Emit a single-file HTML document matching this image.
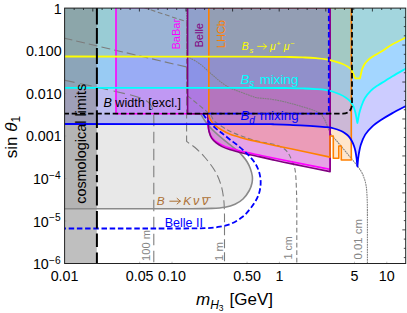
<!DOCTYPE html>
<html><head><meta charset="utf-8"><style>
html,body{margin:0;padding:0;background:#fff;}
body{width:407px;height:313px;overflow:hidden;font-family:"Liberation Sans",sans-serif;}
svg{display:block;font-family:"Liberation Sans",sans-serif;}
</style></head><body>
<svg width="407" height="313" viewBox="0 0 407 313">
<defs><clipPath id="cp"><rect x="64.6" y="8.1" width="341.1" height="255.4"/></clipPath></defs>
<rect width="407" height="313" fill="#fff"/>
<g clip-path="url(#cp)">
<!-- fills -->
<path d="M63.50 113.70L200.60 113.70 C201.23 114.75 203.03 117.97 204.40 120.00 C205.77 122.03 207.08 123.93 208.80 125.90 C210.52 127.87 212.48 129.72 214.70 131.80 C216.92 133.88 219.63 136.32 222.10 138.40 C224.57 140.48 227.03 142.33 229.50 144.30 C231.97 146.27 234.68 148.23 236.90 150.20 C239.12 152.17 241.08 154.13 242.80 156.10 C244.52 158.07 245.95 159.93 247.20 162.00 C248.45 164.07 249.45 166.17 250.30 168.50 C251.15 170.83 252.02 173.58 252.30 176.00 C252.58 178.42 252.50 180.58 252.00 183.00 C251.50 185.42 250.80 187.83 249.30 190.50 C247.80 193.17 245.38 196.70 243.00 199.00 C240.62 201.30 238.00 202.92 235.00 204.30 C232.00 205.68 228.83 206.62 225.00 207.30 C221.17 207.98 217.83 208.17 212.00 208.40 C206.17 208.63 200.33 208.65 190.00 208.70 C179.67 208.75 156.67 208.70 150.00 208.70L63.50 208.70Z" fill="#e8e8e8"/>
<path d="M63.5 7.5 H328.8 V113.7 H63.5 Z" fill="#000" fill-opacity="0.065"/>
<path d="M116.00 7.50L116.00 113.70 L207.50 113.70 C207.63 115.48 207.60 121.63 207.80 124.40 C208.00 127.17 208.27 128.33 208.80 130.30 C209.33 132.27 210.02 134.48 211.00 136.20 C211.98 137.92 212.85 139.12 214.70 140.60 C216.55 142.08 219.63 143.87 222.10 145.10 C224.57 146.33 226.80 147.12 229.50 148.00 C232.20 148.88 235.10 149.58 238.30 150.40 C241.50 151.22 245.08 152.10 248.70 152.90 C252.32 153.70 256.12 154.38 260.00 155.20 C263.88 156.02 266.67 156.68 272.00 157.80 C277.33 158.92 282.32 159.97 292.00 161.90 C301.68 163.83 323.75 168.15 330.10 169.40L330.10 7.50Z" fill="rgb(255,0,255)" fill-opacity="0.2"/>
<path d="M187.60 7.50L187.60 113.70 L207.50 113.70 C207.72 115.48 208.05 121.38 208.30 124.40 C208.55 127.42 208.52 129.47 209.10 131.80 C209.68 134.13 210.62 136.55 211.80 138.40 C212.98 140.25 214.48 141.53 216.20 142.90 C217.92 144.27 219.88 145.48 222.10 146.60 C224.32 147.72 226.80 148.70 229.50 149.60 C232.20 150.50 235.10 151.18 238.30 152.00 C241.50 152.82 245.08 153.68 248.70 154.50 C252.32 155.32 256.12 156.05 260.00 156.90 C263.88 157.75 266.67 158.43 272.00 159.60 C277.33 160.77 282.32 161.90 292.00 163.90 C301.68 165.90 323.75 170.32 330.10 171.60L330.10 7.50Z" fill="rgb(128,0,128)" fill-opacity="0.2"/>
<path d="M208.80 7.50L208.80 113.70 C208.88 114.25 208.93 115.87 209.30 117.00 C209.67 118.13 210.10 119.13 211.00 120.50 C211.90 121.87 212.85 123.57 214.70 125.20 C216.55 126.83 219.63 128.83 222.10 130.30 C224.57 131.77 226.30 132.77 229.50 134.00 C232.70 135.23 237.62 136.63 241.30 137.70 C244.98 138.77 248.48 139.63 251.60 140.40 C254.72 141.17 256.52 141.53 260.00 142.30 C263.48 143.07 267.17 143.88 272.50 145.00 C277.83 146.12 282.42 146.98 292.00 149.00 C301.58 151.02 323.67 155.75 330.00 157.10L330.00 136.00 L333.30 136.00 L333.30 158.30 L338.80 158.30 L338.80 146.00 L341.30 146.00 L341.30 160.00 L351.30 160.00 L351.30 7.50Z" fill="rgb(255,128,0)" fill-opacity="0.2"/>
<path d="M63.50 7.50 L63.50 56.50 C94.58 56.52 212.25 56.52 250.00 56.60 C287.75 56.68 280.83 56.85 290.00 57.00 C299.17 57.15 300.67 57.30 305.00 57.50 C309.33 57.70 312.67 57.93 316.00 58.20 C319.33 58.47 322.03 58.62 325.00 59.10 C327.97 59.58 330.85 60.28 333.80 61.10 C336.75 61.92 340.23 62.98 342.70 64.00 C345.17 65.02 347.12 66.23 348.60 67.20 C350.08 68.17 351.10 69.37 351.60 69.80 L355.30 78.40 L360.00 78.40 L362.00 69.30 C362.42 68.47 363.53 65.80 364.50 64.30 C365.47 62.80 366.55 61.52 367.80 60.30 C369.05 59.08 370.53 58.02 372.00 57.00 C373.47 55.98 374.43 55.50 376.60 54.20 C378.77 52.90 382.35 50.87 385.00 49.20 C387.65 47.53 388.92 46.20 392.50 44.20 C396.08 42.20 404.17 38.37 406.50 37.20 L406.50 7.50Z" fill="rgb(255,255,0)" fill-opacity="0.2"/>
<path d="M63.50 7.50 L63.50 124.00 C94.58 124.02 214.75 124.03 250.00 124.10 C285.25 124.17 268.33 124.28 275.00 124.40 C281.67 124.52 285.00 124.60 290.00 124.80 C295.00 125.00 300.08 125.30 305.00 125.60 C309.92 125.90 315.83 126.33 319.50 126.60 C323.17 126.87 324.58 126.88 327.00 127.20 C329.42 127.52 331.73 127.90 334.00 128.50 C336.27 129.10 338.77 130.00 340.60 130.80 C342.43 131.60 343.68 132.40 345.00 133.30 C346.32 134.20 347.37 134.92 348.50 136.20 C349.63 137.48 350.88 139.37 351.80 141.00 C352.72 142.63 353.38 144.25 354.00 146.00 C354.62 147.75 355.07 149.42 355.50 151.50 C355.93 153.58 356.32 156.33 356.60 158.50 C356.88 160.67 357.07 163.17 357.20 164.50 C357.33 165.83 357.33 166.50 357.40 166.50 C357.47 166.50 357.42 166.27 357.60 164.50 C357.78 162.73 357.97 159.20 358.50 155.90 C359.03 152.60 359.68 148.25 360.80 144.70 C361.92 141.15 363.35 137.58 365.20 134.60 C367.05 131.62 369.28 129.22 371.90 126.80 C374.52 124.38 377.55 122.33 380.90 120.10 C384.25 117.87 387.73 115.80 392.00 113.40 C396.27 111.00 404.08 106.98 406.50 105.70 L406.50 7.50Z" fill="rgb(0,0,255)" fill-opacity="0.2"/>
<path d="M63.50 7.50 L63.50 87.80 C94.58 87.80 212.25 87.75 250.00 87.80 C287.75 87.85 280.83 87.98 290.00 88.10 C299.17 88.22 300.67 88.33 305.00 88.50 C309.33 88.67 312.67 88.87 316.00 89.10 C319.33 89.33 322.27 89.50 325.00 89.90 C327.73 90.30 329.95 90.77 332.40 91.50 C334.85 92.23 337.50 93.32 339.70 94.30 C341.90 95.28 343.87 96.25 345.60 97.40 C347.33 98.55 348.78 99.68 350.10 101.20 C351.42 102.72 352.58 104.45 353.50 106.50 C354.42 108.55 355.05 111.25 355.60 113.50 C356.15 115.75 356.50 118.38 356.80 120.00 C357.10 121.62 357.20 123.20 357.40 123.20 C357.60 123.20 357.70 121.62 358.00 120.00 C358.30 118.38 358.68 115.65 359.20 113.50 C359.72 111.35 360.17 109.65 361.10 107.10 C362.03 104.55 363.20 100.92 364.80 98.20 C366.40 95.48 368.48 92.97 370.70 90.80 C372.92 88.63 375.72 86.83 378.10 85.20 C380.48 83.57 382.60 82.50 385.00 81.00 C387.40 79.50 388.92 78.32 392.50 76.20 C396.08 74.08 404.17 69.62 406.50 68.30 L406.50 7.50Z" fill="rgb(0,255,255)" fill-opacity="0.2"/>
<rect x="63.5" y="7.5" width="33.3" height="257.0" fill="rgb(128,128,128)" fill-opacity="0.5"/>
<!-- lifetime contours -->
<g fill="none" stroke="#7c7c7c" stroke-width="1.1">
<path d="M63.50 80.00 C68.92 81.17 86.58 84.92 96.00 87.00 C105.42 89.08 113.50 90.97 120.00 92.50 C126.50 94.03 130.83 94.95 135.00 96.20 C139.17 97.45 142.42 98.62 145.00 100.00 C147.58 101.38 149.17 102.83 150.50 104.50 C151.83 106.17 152.45 107.83 153.00 110.00 C153.55 112.17 153.67 112.50 153.80 117.50 C153.93 122.50 153.80 136.25 153.80 140.00L153.80 264.50" stroke-dasharray="11.5 5.5"/>
<path d="M63.50 38.00L186.60 67.00 L186.60 141.30 C187.17 141.75 188.60 142.97 190.00 144.00 C191.40 145.03 192.50 145.25 195.00 147.50 C197.50 149.75 201.67 153.58 205.00 157.50 C208.33 161.42 212.33 166.42 215.00 171.00 C217.67 175.58 219.53 180.17 221.00 185.00 C222.47 189.83 223.22 195.00 223.80 200.00 C224.38 205.00 224.38 212.50 224.50 215.00L224.50 264.50" stroke-dasharray="9 4"/>
<path d="M143.60 7.50L186.60 21.70 L186.60 95.00 C190.42 98.17 204.82 109.58 209.50 114.00 C214.18 118.42 211.37 118.67 214.70 121.50 C218.03 124.33 224.58 128.42 229.50 131.00 C234.42 133.58 239.12 135.22 244.20 137.00 C249.28 138.78 254.87 140.43 260.00 141.70 C265.13 142.97 270.73 143.22 275.00 144.60 C279.27 145.98 282.82 147.43 285.60 150.00 C288.38 152.57 290.07 156.33 291.70 160.00 C293.33 163.67 294.55 165.33 295.40 172.00 C296.25 178.67 296.57 195.33 296.80 200.00L296.80 264.50" stroke-dasharray="4.8 2.7"/>
<path d="M186.60 7.50L186.60 57.00 C187.13 57.13 187.62 56.67 189.80 57.80 C191.98 58.93 196.42 61.38 199.70 63.80 C202.98 66.22 206.23 69.47 209.50 72.30 C212.77 75.13 216.03 78.25 219.30 80.80 C222.57 83.35 226.48 86.07 229.10 87.60 C231.72 89.13 232.85 89.17 235.00 90.00 C237.15 90.83 239.50 91.68 242.00 92.60 C244.50 93.52 247.70 94.67 250.00 95.50 C252.30 96.33 253.80 97.13 255.80 97.60 C257.80 98.07 259.63 98.05 262.00 98.30 C264.37 98.55 267.00 98.68 270.00 99.10 C273.00 99.52 276.67 100.12 280.00 100.80 C283.33 101.48 286.67 102.33 290.00 103.20 C293.33 104.07 296.17 104.87 300.00 106.00 C303.83 107.13 309.67 108.75 313.00 110.00 C316.33 111.25 318.17 112.08 320.00 113.50 C321.83 114.92 322.83 116.58 324.00 118.50 C325.17 120.42 325.83 122.33 327.00 125.00 C328.17 127.67 329.47 131.93 331.00 134.50 C332.53 137.07 333.48 137.22 336.20 140.40 C338.92 143.58 343.77 149.33 347.30 153.60 C350.83 157.87 354.87 162.60 357.40 166.00 C359.93 169.40 361.07 170.83 362.50 174.00 C363.93 177.17 365.22 180.67 366.00 185.00 C366.78 189.33 366.97 194.50 367.20 200.00 C367.43 205.50 367.37 215.00 367.40 218.00L367.40 264.50" stroke-width="1.05" stroke="#7e7e7e" stroke-dasharray="1.8 0.7"/>
</g>
<!-- lines -->
<g fill="none" stroke-linejoin="round">
<path d="M200.60 113.70 C201.23 114.75 203.03 117.97 204.40 120.00 C205.77 122.03 207.08 123.93 208.80 125.90 C210.52 127.87 212.48 129.72 214.70 131.80 C216.92 133.88 219.63 136.32 222.10 138.40 C224.57 140.48 227.03 142.33 229.50 144.30 C231.97 146.27 234.68 148.23 236.90 150.20 C239.12 152.17 241.08 154.13 242.80 156.10 C244.52 158.07 245.95 159.93 247.20 162.00 C248.45 164.07 249.45 166.17 250.30 168.50 C251.15 170.83 252.02 173.58 252.30 176.00 C252.58 178.42 252.50 180.58 252.00 183.00 C251.50 185.42 250.80 187.83 249.30 190.50 C247.80 193.17 245.38 196.70 243.00 199.00 C240.62 201.30 238.00 202.92 235.00 204.30 C232.00 205.68 228.83 206.62 225.00 207.30 C221.17 207.98 217.83 208.17 212.00 208.40 C206.17 208.63 200.33 208.65 190.00 208.70 C179.67 208.75 156.67 208.70 150.00 208.70L63.50 208.70" stroke="#8a8a8a" stroke-width="1.6"/>
<path d="M116.00 7.50L116.00 113.70 L207.50 113.70 C207.63 115.48 207.60 121.63 207.80 124.40 C208.00 127.17 208.27 128.33 208.80 130.30 C209.33 132.27 210.02 134.48 211.00 136.20 C211.98 137.92 212.85 139.12 214.70 140.60 C216.55 142.08 219.63 143.87 222.10 145.10 C224.57 146.33 226.80 147.12 229.50 148.00 C232.20 148.88 235.10 149.58 238.30 150.40 C241.50 151.22 245.08 152.10 248.70 152.90 C252.32 153.70 256.12 154.38 260.00 155.20 C263.88 156.02 266.67 156.68 272.00 157.80 C277.33 158.92 282.32 159.97 292.00 161.90 C301.68 163.83 323.75 168.15 330.10 169.40L330.10 7.50Z" stroke="rgb(255,0,255)" stroke-width="1.6"/>
<path d="M187.60 7.50L187.60 113.70 L207.50 113.70 C207.72 115.48 208.05 121.38 208.30 124.40 C208.55 127.42 208.52 129.47 209.10 131.80 C209.68 134.13 210.62 136.55 211.80 138.40 C212.98 140.25 214.48 141.53 216.20 142.90 C217.92 144.27 219.88 145.48 222.10 146.60 C224.32 147.72 226.80 148.70 229.50 149.60 C232.20 150.50 235.10 151.18 238.30 152.00 C241.50 152.82 245.08 153.68 248.70 154.50 C252.32 155.32 256.12 156.05 260.00 156.90 C263.88 157.75 266.67 158.43 272.00 159.60 C277.33 160.77 282.32 161.90 292.00 163.90 C301.68 165.90 323.75 170.32 330.10 171.60L330.10 7.50Z" stroke="rgb(128,0,128)" stroke-width="1.6"/>
<path d="M208.80 7.50L208.80 113.70 C208.88 114.25 208.93 115.87 209.30 117.00 C209.67 118.13 210.10 119.13 211.00 120.50 C211.90 121.87 212.85 123.57 214.70 125.20 C216.55 126.83 219.63 128.83 222.10 130.30 C224.57 131.77 226.30 132.77 229.50 134.00 C232.70 135.23 237.62 136.63 241.30 137.70 C244.98 138.77 248.48 139.63 251.60 140.40 C254.72 141.17 256.52 141.53 260.00 142.30 C263.48 143.07 267.17 143.88 272.50 145.00 C277.83 146.12 282.42 146.98 292.00 149.00 C301.58 151.02 323.67 155.75 330.00 157.10L330.00 136.00 L333.30 136.00 L333.30 158.30 L338.80 158.30 L338.80 146.00 L341.30 146.00 L341.30 160.00 L351.30 160.00 L351.30 7.50Z" stroke="rgb(255,128,0)" stroke-width="1.6"/>
<path d="M63.50 124.00 C94.58 124.02 214.75 124.03 250.00 124.10 C285.25 124.17 268.33 124.28 275.00 124.40 C281.67 124.52 285.00 124.60 290.00 124.80 C295.00 125.00 300.08 125.30 305.00 125.60 C309.92 125.90 315.83 126.33 319.50 126.60 C323.17 126.87 324.58 126.88 327.00 127.20 C329.42 127.52 331.73 127.90 334.00 128.50 C336.27 129.10 338.77 130.00 340.60 130.80 C342.43 131.60 343.68 132.40 345.00 133.30 C346.32 134.20 347.37 134.92 348.50 136.20 C349.63 137.48 350.88 139.37 351.80 141.00 C352.72 142.63 353.38 144.25 354.00 146.00 C354.62 147.75 355.07 149.42 355.50 151.50 C355.93 153.58 356.32 156.33 356.60 158.50 C356.88 160.67 357.07 163.17 357.20 164.50 C357.33 165.83 357.33 166.50 357.40 166.50 C357.47 166.50 357.42 166.27 357.60 164.50 C357.78 162.73 357.97 159.20 358.50 155.90 C359.03 152.60 359.68 148.25 360.80 144.70 C361.92 141.15 363.35 137.58 365.20 134.60 C367.05 131.62 369.28 129.22 371.90 126.80 C374.52 124.38 377.55 122.33 380.90 120.10 C384.25 117.87 387.73 115.80 392.00 113.40 C396.27 111.00 404.08 106.98 406.50 105.70" stroke="rgb(0,0,255)" stroke-width="1.8"/>
<path d="M63.50 87.80 C94.58 87.80 212.25 87.75 250.00 87.80 C287.75 87.85 280.83 87.98 290.00 88.10 C299.17 88.22 300.67 88.33 305.00 88.50 C309.33 88.67 312.67 88.87 316.00 89.10 C319.33 89.33 322.27 89.50 325.00 89.90 C327.73 90.30 329.95 90.77 332.40 91.50 C334.85 92.23 337.50 93.32 339.70 94.30 C341.90 95.28 343.87 96.25 345.60 97.40 C347.33 98.55 348.78 99.68 350.10 101.20 C351.42 102.72 352.58 104.45 353.50 106.50 C354.42 108.55 355.05 111.25 355.60 113.50 C356.15 115.75 356.50 118.38 356.80 120.00 C357.10 121.62 357.20 123.20 357.40 123.20 C357.60 123.20 357.70 121.62 358.00 120.00 C358.30 118.38 358.68 115.65 359.20 113.50 C359.72 111.35 360.17 109.65 361.10 107.10 C362.03 104.55 363.20 100.92 364.80 98.20 C366.40 95.48 368.48 92.97 370.70 90.80 C372.92 88.63 375.72 86.83 378.10 85.20 C380.48 83.57 382.60 82.50 385.00 81.00 C387.40 79.50 388.92 78.32 392.50 76.20 C396.08 74.08 404.17 69.62 406.50 68.30" stroke="rgb(0,255,255)" stroke-width="1.8"/>
<path d="M63.50 56.50 C94.58 56.52 212.25 56.52 250.00 56.60 C287.75 56.68 280.83 56.85 290.00 57.00 C299.17 57.15 300.67 57.30 305.00 57.50 C309.33 57.70 312.67 57.93 316.00 58.20 C319.33 58.47 322.03 58.62 325.00 59.10 C327.97 59.58 330.85 60.28 333.80 61.10 C336.75 61.92 340.23 62.98 342.70 64.00 C345.17 65.02 347.12 66.23 348.60 67.20 C350.08 68.17 351.10 69.37 351.60 69.80 L355.30 78.40 L360.00 78.40 L362.00 69.30 C362.42 68.47 363.53 65.80 364.50 64.30 C365.47 62.80 366.55 61.52 367.80 60.30 C369.05 59.08 370.53 58.02 372.00 57.00 C373.47 55.98 374.43 55.50 376.60 54.20 C378.77 52.90 382.35 50.87 385.00 49.20 C387.65 47.53 388.92 46.20 392.50 44.20 C396.08 42.20 404.17 38.37 406.50 37.20" stroke="rgb(255,255,0)" stroke-width="1.8"/>
<path d="M202.90 113.70 C203.65 114.75 205.43 117.72 207.40 120.00 C209.37 122.28 212.25 125.18 214.70 127.40 C217.15 129.62 219.63 131.33 222.10 133.30 C224.57 135.27 227.03 137.28 229.50 139.20 C231.97 141.12 234.45 142.83 236.90 144.80 C239.35 146.77 242.00 148.98 244.20 151.00 C246.40 153.02 248.25 154.82 250.10 156.90 C251.95 158.98 253.85 161.15 255.30 163.50 C256.75 165.85 257.93 168.42 258.80 171.00 C259.67 173.58 260.23 176.33 260.50 179.00 C260.77 181.67 260.73 184.33 260.40 187.00 C260.07 189.67 259.40 192.50 258.50 195.00 C257.60 197.50 256.42 199.67 255.00 202.00 C253.58 204.33 252.00 206.58 250.00 209.00 C248.00 211.42 246.00 214.12 243.00 216.50 C240.00 218.88 235.83 221.60 232.00 223.30 C228.17 225.00 224.50 225.88 220.00 226.70 C215.50 227.52 211.67 227.90 205.00 228.20 C198.33 228.50 189.17 228.45 180.00 228.50 C170.83 228.55 155.00 228.50 150.00 228.50L63.50 228.50" stroke="rgb(0,0,255)" stroke-width="1.8" stroke-dasharray="5.5 2.7"/>
<path d="M328.8 7.5 V113.7 H208" stroke="rgb(0,0,255)" stroke-width="1.8" stroke-dasharray="5.5 2.7"/>
<path d="M63.5 113.7 H342.8 C347.3 113.7 352 111 352 104 V8.1" stroke="#000" stroke-width="1.8" stroke-dasharray="5.5 2.7"/>
<path d="M96.9 8 V264.5" stroke="#000" stroke-width="2" stroke-dasharray="16.5 3.5 15.8 4.3 15.8 3.7 16.4 4 18.6 3.7 17.8 4.3 17.3 5.1 16.4 3.8 7.2 4.2 19.0 5.6 17.6 4.9 13.5 5.5 30 0"/>
</g>
</g>
<!-- frame & ticks -->
<g stroke="#000" stroke-width="0.7" fill="none">
<path d="M74.16 8.1 v1.9"/>
<path d="M83.48 8.1 v1.9"/>
<path d="M92.80 8.1 v3.4"/>
<path d="M102.12 8.1 v1.9"/>
<path d="M111.44 8.1 v1.9"/>
<path d="M120.76 8.1 v1.9"/>
<path d="M130.08 8.1 v1.9"/>
<path d="M139.40 8.1 v3.4"/>
<path d="M148.72 8.1 v1.9"/>
<path d="M158.04 8.1 v1.9"/>
<path d="M167.36 8.1 v1.9"/>
<path d="M176.68 8.1 v1.9"/>
<path d="M186.00 8.1 v3.4"/>
<path d="M195.32 8.1 v1.9"/>
<path d="M204.64 8.1 v1.9"/>
<path d="M213.96 8.1 v1.9"/>
<path d="M223.28 8.1 v1.9"/>
<path d="M232.60 8.1 v3.4"/>
<path d="M241.92 8.1 v1.9"/>
<path d="M251.24 8.1 v1.9"/>
<path d="M260.56 8.1 v1.9"/>
<path d="M269.88 8.1 v1.9"/>
<path d="M279.20 8.1 v3.4"/>
<path d="M288.52 8.1 v1.9"/>
<path d="M297.84 8.1 v1.9"/>
<path d="M307.16 8.1 v1.9"/>
<path d="M316.48 8.1 v1.9"/>
<path d="M325.80 8.1 v3.4"/>
<path d="M335.12 8.1 v1.9"/>
<path d="M344.44 8.1 v1.9"/>
<path d="M353.76 8.1 v1.9"/>
<path d="M363.08 8.1 v1.9"/>
<path d="M372.40 8.1 v3.4"/>
<path d="M381.72 8.1 v1.9"/>
<path d="M391.04 8.1 v1.9"/>
<path d="M400.36 8.1 v1.9"/>
<path d="M405.7 17.34 h-1.9"/>
<path d="M405.7 26.58 h-1.9"/>
<path d="M405.7 35.82 h-1.9"/>
<path d="M405.7 45.06 h-3.4"/>
<path d="M405.7 54.30 h-1.9"/>
<path d="M405.7 63.54 h-1.9"/>
<path d="M405.7 72.78 h-1.9"/>
<path d="M405.7 82.02 h-3.4"/>
<path d="M405.7 91.26 h-1.9"/>
<path d="M405.7 100.50 h-1.9"/>
<path d="M405.7 109.74 h-1.9"/>
<path d="M405.7 118.98 h-3.4"/>
<path d="M405.7 128.22 h-1.9"/>
<path d="M405.7 137.46 h-1.9"/>
<path d="M405.7 146.70 h-1.9"/>
<path d="M405.7 155.94 h-3.4"/>
<path d="M405.7 165.18 h-1.9"/>
<path d="M405.7 174.42 h-1.9"/>
<path d="M405.7 183.66 h-1.9"/>
<path d="M405.7 192.90 h-3.4"/>
<path d="M405.7 202.14 h-1.9"/>
<path d="M405.7 211.38 h-1.9"/>
<path d="M405.7 220.62 h-1.9"/>
<path d="M405.7 229.86 h-3.4"/>
<path d="M405.7 239.10 h-1.9"/>
<path d="M405.7 248.34 h-1.9"/>
<path d="M405.7 257.58 h-1.9"/>
</g>
<g stroke="#999" stroke-width="0.6" fill="none">
<path d="M139.67 263.5 v-1.8"/>
<path d="M172.00 263.5 v-1.8"/>
<path d="M247.07 263.5 v-1.8"/>
<path d="M279.40 263.5 v-1.8"/>
<path d="M354.47 263.5 v-1.8"/>
<path d="M386.80 263.5 v-1.8"/>
<path d="M64.6 51.00 h1.8"/>
<path d="M64.6 93.50 h1.8"/>
<path d="M64.6 136.00 h1.8"/>
<path d="M64.6 178.50 h1.8"/>
<path d="M64.6 221.00 h1.8"/>
</g>
<rect x="64.6" y="8.1" width="341.1" height="255.4" fill="none" stroke="#222" stroke-width="1"/>
<!-- labels -->
<g font-size="14.3" fill="#000">
<text x="64.60" y="281.4" text-anchor="middle">0.01</text>
<text x="139.67" y="281.4" text-anchor="middle">0.05</text>
<text x="172.00" y="281.4" text-anchor="middle">0.10</text>
<text x="247.07" y="281.4" text-anchor="middle">0.50</text>
<text x="279.40" y="281.4" text-anchor="middle">1</text>
<text x="354.47" y="281.4" text-anchor="middle">5</text>
<text x="386.80" y="281.4" text-anchor="middle">10</text>
<text x="61.7" y="13.70" text-anchor="end">1</text>
<text x="61.7" y="56.20" text-anchor="end">0.100</text>
<text x="61.7" y="98.70" text-anchor="end">0.010</text>
<text x="61.7" y="141.20" text-anchor="end">0.001</text>
<text x="48.8" y="184.10" text-anchor="end">10</text><text x="49" y="178.90" font-size="10.2">−4</text>
<text x="48.8" y="226.60" text-anchor="end">10</text><text x="49" y="221.40" font-size="10.2">−5</text>
<text x="48.8" y="269.10" text-anchor="end">10</text><text x="49" y="263.90" font-size="10.2">−6</text>
</g>
<text transform="translate(17.4 137) rotate(-90)" text-anchor="middle" font-size="17" fill="#000">sin <tspan font-style="italic">θ</tspan><tspan font-size="12" dy="3">1</tspan></text>
<text x="196" y="304.8" font-size="17" fill="#000"><tspan font-style="italic">m</tspan><tspan font-size="12" font-style="italic" dy="4.4">H</tspan><tspan font-size="8.5" dy="1.8">3</tspan><tspan dy="-6.2" dx="1.3"> [GeV]</tspan></text>
<!-- annotations -->
<text transform="translate(86 203.8) rotate(-90)" font-size="14.2" fill="#000" textLength="120" lengthAdjust="spacingAndGlyphs">cosmological limits</text>
<text x="103.5" y="107.4" font-size="12.5" fill="#000" textLength="77.5" lengthAdjust="spacingAndGlyphs"><tspan font-style="italic">B</tspan> width [excl.]</text>
<text transform="translate(180.3 49.6) rotate(-90)" font-size="11" fill="rgb(255,0,255)" textLength="30.8" lengthAdjust="spacingAndGlyphs">BaBar</text>
<text transform="translate(203 47.6) rotate(-90)" font-size="11" fill="rgb(128,0,128)" textLength="24.6" lengthAdjust="spacingAndGlyphs">Belle</text>
<text transform="translate(225 48.2) rotate(-90)" font-size="11" fill="rgb(255,128,0)" textLength="28.2" lengthAdjust="spacingAndGlyphs">LHCb</text>
<g font-size="10.4" fill="rgb(255,255,0)" font-style="italic">
<text x="241.7" y="50.1">B</text><text x="249.4" y="52.6" font-size="7.6">s</text>
<text x="270" y="50.1">μ</text><text x="276.6" y="46" font-size="7.2" font-style="normal">+</text>
<text x="283.7" y="50.1">μ</text><text x="290.2" y="46" font-size="7.2" font-style="normal">−</text>
</g>
<path d="M257.6 46.4 H266.6 M263.61 43.80 L266.6 46.4 L263.61 49.00" fill="none" stroke="rgb(255,255,0)" stroke-width="0.9" stroke-linecap="round" stroke-linejoin="round"/>
<text x="240.4" y="83.5" font-size="13.4" fill="rgb(0,255,255)"><tspan font-style="italic">B</tspan><tspan font-size="10" font-style="italic" dy="3.6">s</tspan><tspan dy="-3.6" dx="1.6"> mixing</tspan></text>
<text x="240.4" y="120" font-size="13.4" fill="rgb(0,0,255)"><tspan font-style="italic">B</tspan><tspan font-size="10" font-style="italic" dy="3.6">d</tspan><tspan dy="-3.6" dx="1.3"> mixing</tspan></text>
<g font-size="11.8" fill="rgb(172,112,52)" font-style="italic">
<text x="156.7" y="205.3">B</text><text x="183.2" y="205.3">K</text>
<text x="193" y="205.3" font-size="12.6">ν</text><text x="202" y="205.3" font-size="12.6">ν</text>
</g>
<path d="M202.2 197.6 H210.8" stroke="rgb(172,112,52)" stroke-width="0.9" fill="none"/>
<path d="M169.8 201.2 H180.3 M177.08 198.40 L180.3 201.2 L177.08 204.00" fill="none" stroke="rgb(172,112,52)" stroke-width="1.0" stroke-linecap="round" stroke-linejoin="round"/>
<text x="164.7" y="226.9" font-size="12.2" fill="rgb(0,0,255)" textLength="38.3" lengthAdjust="spacingAndGlyphs">Belle II</text>
<g font-size="11.2" fill="#858585">
<text transform="translate(150.3 261) rotate(-90)" textLength="31" lengthAdjust="spacingAndGlyphs">100 m</text>
<text transform="translate(222.7 261) rotate(-90)" textLength="19" lengthAdjust="spacingAndGlyphs">1 m</text>
<text transform="translate(291.8 259.5) rotate(-90)" font-size="10.8" textLength="23.2" lengthAdjust="spacingAndGlyphs">1 cm</text>
<text transform="translate(362 259.5) rotate(-90)" textLength="40.5" lengthAdjust="spacingAndGlyphs">0.01 cm</text>
</g>
</svg>
</body></html>
